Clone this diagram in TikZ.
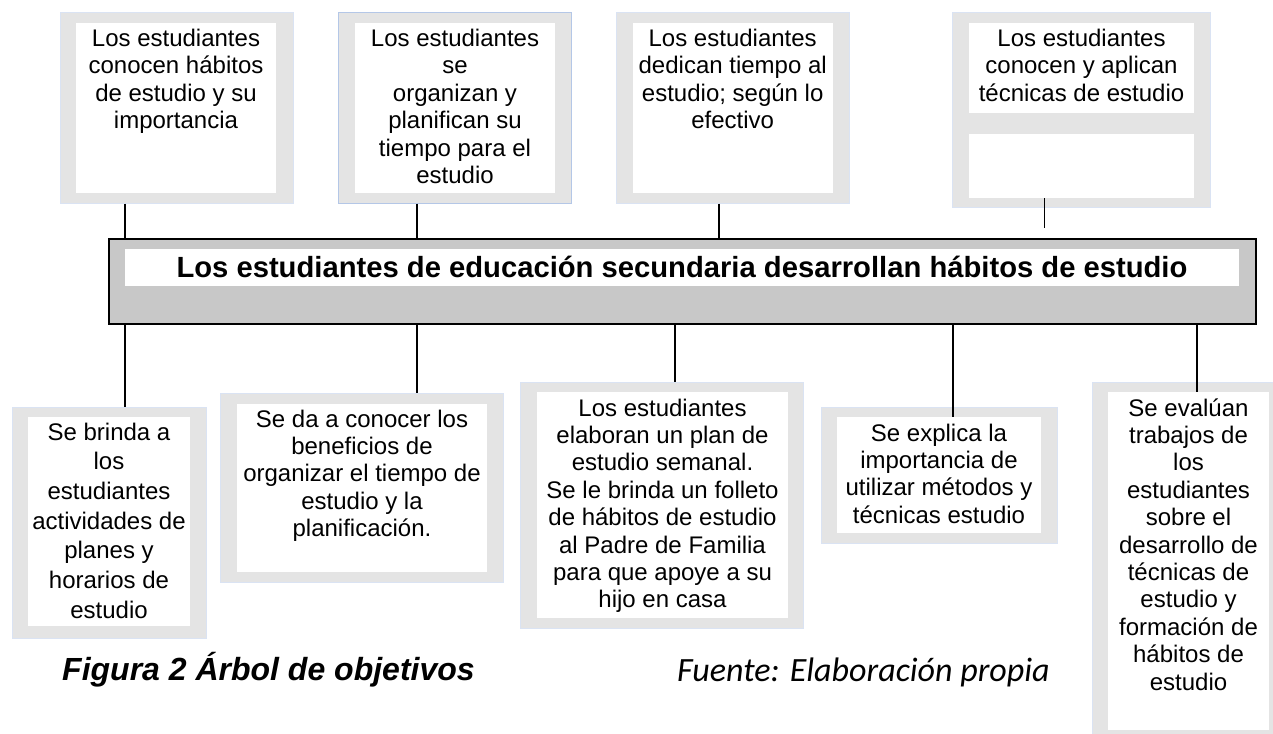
\documentclass[tikz,border=0pt]{standalone}
\usepackage{fontspec}
\setmainfont{Liberation Sans}
\newfontfamily\fuentefont{Carlito}
\definecolor{framegray}{HTML}{E4E4E4}
\definecolor{frameblue}{HTML}{DAE3F3}
\definecolor{framebluedark}{HTML}{B4C7E7}
\definecolor{bargray}{HTML}{C8C8C8}

\begin{document}
\begin{tikzpicture}[x=1pt, y=-1pt,
	frame/.style={draw=frameblue, fill=framegray, line width=0.8pt, inner sep=0pt, anchor=north west},
	blank/.style={fill=white, inner sep=0pt, anchor=north west},
	txt/.style={font=\fontsize{24}{27.4}\selectfont, align=center, anchor=north, inner sep=0pt},
	link/.style={line width=1.6pt}]
	\useasboundingbox (0,0) rectangle (1273,733);
	\clip (0,0) rectangle (1273,733);

	\node[frame, minimum width=232.7, minimum height=190.4] (t1f) at (60,12.3) {};
	\node[blank, minimum width=200, minimum height=169.7] (t1in) at (76,23) {};
	\node[txt] (t1) at (176,27.1) {\strut Los estudiantes\\conocen hábitos\\de estudio y su\\importancia};

	\node[frame, draw=framebluedark, minimum width=232.7, minimum height=190.4] (t2f) at (338.3,12.3) {};
	\node[blank, minimum width=200, minimum height=169.7] (t2in) at (355,23) {};
	\node[txt] (t2) at (455,27.1) {\strut Los estudiantes\\se\\organizan y\\planifican su\\tiempo para el\\estudio};

	\node[frame, minimum width=233, minimum height=190.4] (t3f) at (616,12.3) {};
	\node[blank, minimum width=200, minimum height=169.7] (t3in) at (632.7,23) {};
	\node[txt] (t3) at (732.7,27.1) {\strut Los estudiantes\\dedican tiempo al\\estudio; según lo\\efectivo};

	\node[frame, minimum width=257.7, minimum height=195] (t4f) at (952.3,12.3) {};
	\node[blank, minimum width=225, minimum height=89.7] (t4in) at (969,23) {};
	\node[blank, minimum width=225, minimum height=63.7] (t4low) at (969,134) {};
	\node[txt] (t4) at (1081.5,27.1) {\strut Los estudiantes\\conocen y aplican\\técnicas de estudio};

	\node[draw, line width=1.5pt, fill=bargray, inner sep=0pt, anchor=north west, minimum width=1146.7, minimum height=85.3] (bar) at (108.3,238) {};
	\node[blank, minimum width=1114, minimum height=36.7] (barin) at (125,249) {};
	\node[font=\fontsize{29.2}{34}\selectfont\bfseries, anchor=base, inner sep=0pt] (meta) at (682,277) {Los estudiantes de educación secundaria desarrollan hábitos de estudio};

	\node[frame, minimum width=194.3, minimum height=231.3] (b1f) at (11.7,406.7) {};
	\node[blank, minimum width=162, minimum height=209] (b1in) at (28,417) {};
	\node[txt, font=\fontsize{24}{29.7}\selectfont] (b1) at (109,419.2) {\strut Se brinda a\\los\\estudiantes\\actividades de\\planes y\\horarios de\\estudio};

	\node[frame, minimum width=282.7, minimum height=189] (b2f) at (220,393) {};
	\node[blank, minimum width=250, minimum height=168] (b2in) at (237,404) {};
	\node[txt] (b2) at (362,407.8) {\strut Se da a conocer los\\beneficios de\\organizar el tiempo de\\estudio y la\\planificación.};

	\node[frame, minimum width=283, minimum height=246] (b3f) at (520,382) {};
	\node[blank, minimum width=251, minimum height=226] (b3in) at (537,392) {};
	\node[txt] (b3) at (662.5,396.8) {\strut Los estudiantes\\elaboran un plan de\\estudio semanal.\\Se le brinda un folleto\\de hábitos de estudio\\al Padre de Familia\\para que apoye a su\\hijo en casa};

	\node[frame, minimum width=236, minimum height=136] (b4f) at (821,407) {};
	\node[blank, minimum width=204, minimum height=116] (b4in) at (837,417) {};
	\node[txt] (b4) at (939,421.8) {\strut Se explica la\\importancia de\\utilizar métodos y\\técnicas estudio};

	\node[frame, minimum width=190, minimum height=360] (b5f) at (1092,382) {};
	\node[blank, minimum width=161, minimum height=338] (b5in) at (1108,392) {};
	\node[txt] (b5) at (1188.5,396.8) {\strut Se evalúan\\trabajos de\\los\\estudiantes\\sobre el\\desarrollo de\\técnicas de\\estudio y\\formación de\\hábitos de\\estudio};

	\coordinate (t4end) at (1044.3,227.7);
	\draw[link] (t1f.south -| 125,0) -- (bar.north -| 125,0);
	\draw[link] (t2f.south -| 416.7,0) -- (bar.north -| 416.7,0);
	\draw[link] (t3f.south -| 719,0) -- (bar.north -| 719,0);
	\draw[link] (t4low.south -| t4end) -- (t4end);
	\draw[link] (bar.south -| 125,0) -- (b1f.north -| 125,0);
	\draw[link] (bar.south -| 416.7,0) -- (b2f.north -| 416.7,0);
	\draw[link] (bar.south -| 674.7,0) -- (b3f.north -| 674.7,0);
	\draw[link] (bar.south -| 953,0) -- (b4in.north -| 953,0);
	\draw[link] (bar.south -| 1197,0) -- (b5in.north -| 1197,0);

	\node[font=\fontsize{32}{38}\selectfont\bfseries\itshape, anchor=base west, inner sep=0pt] (fig) at (62,680) {Figura 2 Árbol de objetivos};
	\node[font=\fuentefont\itshape\fontsize{34}{40}\selectfont, anchor=base west, inner sep=0pt] (src) at (677,681) {Fuente: Elaboración propia};
\end{tikzpicture}
\end{document}
